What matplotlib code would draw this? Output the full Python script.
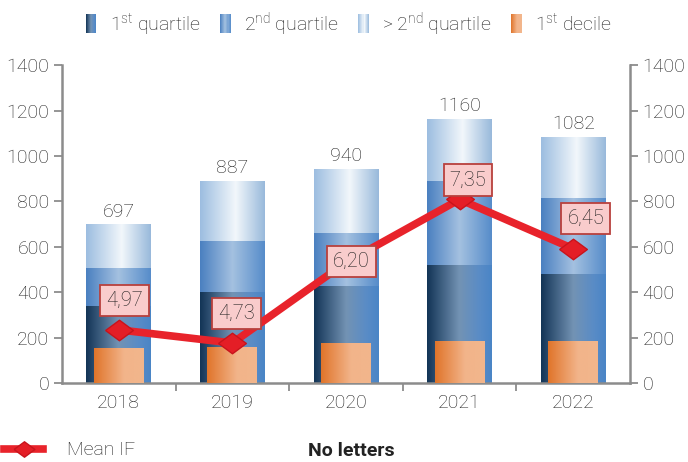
import matplotlib
matplotlib.use("Agg")
import matplotlib.pyplot as plt
import numpy as np
from matplotlib.colors import LinearSegmentedColormap
from matplotlib.patches import Patch, Rectangle
from matplotlib.legend_handler import HandlerBase

plt.rcParams['font.family'] = ['Roboto', 'DejaVu Sans']
plt.rcParams['font.weight'] = 'light'
plt.rcParams['mathtext.default'] = 'regular'

# data
years = ["2018", "2019", "2020", "2021", "2022"]
q1 = [339, 402, 428, 520, 480]          # 1st quartile
q2 = [167, 225, 231, 369, 336]          # 2nd quartile
totals = [697, 887, 940, 1160, 1082]    # all journals
decile = [150, 157, 175, 182, 182]      # 1st decile
mean_if = [4.97, 4.73, 6.20, 7.35, 6.45]

rest = [t - a - b for t, a, b in zip(totals, q1, q2)]

# gradients (left -> right across each bar)
cm_q1 = LinearSegmentedColormap.from_list("q1", [(0, '#123456'), (0.5, '#7393b4'), (0.8, '#5a8cc6'), (1, '#4a85c6')])
cm_q2 = LinearSegmentedColormap.from_list("q2", [(0, '#4a80c0'), (0.5, '#a4c1e0'), (1, '#568cca')])
cm_rest = LinearSegmentedColormap.from_list("rest", [(0, '#9cbde0'), (0.55, '#f2f7fb'), (1, '#98b9db')])
cm_dec = LinearSegmentedColormap.from_list("dec", [(0, '#e0742a'), (0.6, '#f2b48a'), (1, '#f2b68c')])

grey = '#8c8c8c'
txt = '#1e1e1e'
fs = 14

fig = plt.figure(figsize=(6.88, 4.62), dpi=100)
ax = fig.add_axes([0.0901, 0.171, 0.8256, 0.688])

x = np.arange(len(years))
grad = np.linspace(0, 1, 256).reshape(1, -1)


def gradient_bars(bars, cmap, z):
    for b in bars:
        x0, y0 = b.get_x(), b.get_y()
        ax.imshow(grad, cmap=cmap, aspect='auto', interpolation='bilinear',
                  extent=[x0, x0 + b.get_width(), y0, y0 + b.get_height()], zorder=z)


b1 = ax.bar(x, q1, width=0.57, color='none', zorder=2)
b2 = ax.bar(x, q2, width=0.57, bottom=q1, color='none', zorder=2)
b3 = ax.bar(x, rest, width=0.57, bottom=np.add(q1, q2), color='none', zorder=2)
b4 = ax.bar(x, decile, width=0.44, color='none', zorder=3)
gradient_bars(b1, cm_q1, 2)
gradient_bars(b2, cm_q2, 2)
gradient_bars(b3, cm_rest, 2)
gradient_bars(b4, cm_dec, 3)

for i, t in enumerate(totals):
    ax.annotate(str(t), (x[i], t), xytext=(0, 3), textcoords='offset points',
                ha='center', va='bottom', fontsize=fs, color=txt)

# Mean IF on a hidden secondary scale
ax2 = ax.twinx()
ax2.set_ylim(4.0, 9.8)
ax2.set_xlim(-0.5, 4.5)
ax2.axis('off')

ax.set_xlim(-0.5, 4.5)
ax.set_ylim(0, 1400)
ax.set_yticks(range(0, 1401, 200))
ax.set_xticks(x)
ax.set_xticklabels(years)
ax.set_xticks(np.arange(0.5, 4.5, 1), minor=True)
ax.tick_params(axis='x', which='major', length=0, pad=8, labelsize=fs, labelcolor=txt)
ax.tick_params(axis='x', which='minor', length=6, width=1.3, color=grey, direction='out')
ax.tick_params(axis='y', length=6, width=1.3, color=grey, direction='out',
               labelsize=fs, labelcolor=txt, left=True, right=True,
               labelleft=True, labelright=True, pad=3)
ax.spines['top'].set_visible(False)
for s in ['left', 'right', 'bottom']:
    ax.spines[s].set_color(grey)
    ax.spines[s].set_linewidth(1.8)

diamond = [(-1.35, 0), (0, 1), (1.35, 0), (0, -1), (-1.35, 0)]
line, = ax2.plot(x, mean_if, color='#e8232b', lw=5.5, marker=diamond, markersize=20,
                 markerfacecolor='#e41e26', markeredgecolor='#c8141c', markeredgewidth=1, zorder=5)

label_offsets = [(4, 21), (3, 21), (4, 1), (6, 14), (9, 22)]
for i, v in enumerate(mean_if):
    ax2.annotate(f"{v:.2f}".replace('.', ','), (x[i], v), xytext=label_offsets[i],
                 textcoords='offset points', ha='center', va='center', fontsize=14.5, color=txt,
                 zorder=6,
                 bbox=dict(boxstyle='square,pad=0.3', fc='#f9cccc', ec='#b8403d', lw=1.3))


class HandlerGrad(HandlerBase):
    def __init__(self, cmap):
        super().__init__()
        self.cmap = cmap

    def create_artists(self, legend, orig_handle, xdescent, ydescent, width, height, fontsize, trans):
        n = 10
        arts = []
        for k in range(n):
            arts.append(Rectangle((-xdescent + width * k / n, -ydescent - 1), width / n, height + 2,
                                  fc=self.cmap((k + 0.5) / n), ec='none', transform=trans))
        return arts


h1, h2, h3, h4 = Patch(), Patch(), Patch(), Patch()
fig.legend([h1, h2, h3, h4],
           ['1$^{st}$ quartile', '2$^{nd}$ quartile', '> 2$^{nd}$ quartile', '1$^{st}$ decile'],
           handler_map={h1: HandlerGrad(cm_q1), h2: HandlerGrad(cm_q2),
                        h3: HandlerGrad(cm_rest), h4: HandlerGrad(cm_dec)},
           loc='upper center', bbox_to_anchor=(0.507, 1.015), ncol=4, frameon=False,
           fontsize=fs, handlelength=0.55, handleheight=0.9, handletextpad=0.7,
           columnspacing=1.0, labelcolor=txt)

fig.legend([line], ['Mean IF'], loc='center left', bbox_to_anchor=(-0.005, 0.025), frameon=False,
           fontsize=fs, handlelength=2.0, handletextpad=1.2, borderaxespad=0, markerscale=0.75,
           labelcolor=txt)
fig.text(0.51, 0.023, 'No letters', ha='center', va='center', fontsize=fs,
         fontweight='bold', color='#222222')

fig.savefig('out.png', dpi=100)
